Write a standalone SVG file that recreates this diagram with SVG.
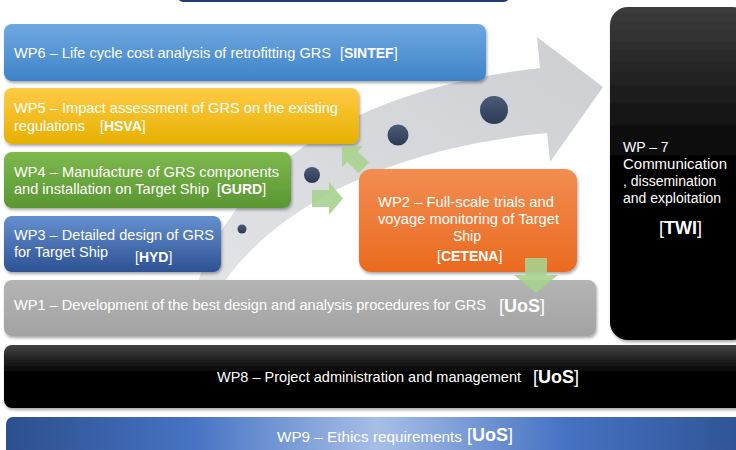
<svg xmlns="http://www.w3.org/2000/svg" width="736" height="450" viewBox="0 0 736 450">
<defs>
<linearGradient id="gBlue6" x1="0" y1="0" x2="0" y2="1"><stop offset="0" stop-color="#6ea8e0"/><stop offset="1" stop-color="#3f84c8"/></linearGradient>
<linearGradient id="gYel" x1="0" y1="0" x2="0" y2="1"><stop offset="0" stop-color="#ffcb45"/><stop offset="1" stop-color="#e6b000"/></linearGradient>
<linearGradient id="gGrn" x1="0" y1="0" x2="0" y2="1"><stop offset="0" stop-color="#7db94c"/><stop offset="1" stop-color="#5a9632"/></linearGradient>
<linearGradient id="gBlue3" x1="0" y1="0" x2="0" y2="1"><stop offset="0" stop-color="#6690d0"/><stop offset="1" stop-color="#2d5294"/></linearGradient>
<linearGradient id="gOr" x1="0" y1="0" x2="0" y2="1"><stop offset="0" stop-color="#f28d52"/><stop offset="1" stop-color="#ea6a1f"/></linearGradient>
<linearGradient id="gGray" x1="0" y1="0" x2="0" y2="1"><stop offset="0" stop-color="#b4b4b4"/><stop offset="1" stop-color="#a3a3a3"/></linearGradient>
<linearGradient id="gBlk7" x1="0" y1="0" x2="0" y2="1"><stop offset="0" stop-color="#3c3c3c"/><stop offset="0.5" stop-color="#000"/><stop offset="1" stop-color="#000"/></linearGradient>
<linearGradient id="gBlk8" x1="0" y1="0" x2="0" y2="1"><stop offset="0" stop-color="#444"/><stop offset="0.45" stop-color="#000"/><stop offset="1" stop-color="#000"/></linearGradient>
<linearGradient id="gWP9" x1="0" y1="0" x2="1" y2="0"><stop offset="0" stop-color="#2d4f8c"/><stop offset="0.25" stop-color="#4673c4"/><stop offset="0.5" stop-color="#a7bfe7"/><stop offset="0.75" stop-color="#4673c4"/><stop offset="1" stop-color="#2e5293"/></linearGradient>
<linearGradient id="gBand" x1="0" y1="1" x2="1" y2="0"><stop offset="0" stop-color="#e2e3e6"/><stop offset="1" stop-color="#cdced2"/></linearGradient>
<linearGradient id="gDot" x1="0" y1="0" x2="0" y2="1"><stop offset="0" stop-color="#4b5b78"/><stop offset="1" stop-color="#2c3a55"/></linearGradient>
<filter id="sh" x="-5%" y="-10%" width="110%" height="130%"><feDropShadow dx="1" dy="2" stdDeviation="1.5" flood-color="#000" flood-opacity="0.35"/></filter>
</defs>
<style>
.t{font-family:"Liberation Sans",Arial,sans-serif;font-size:15px;fill:#fff}
.s{font-size:14px}
.b{font-size:14px}
.big{font-size:18px}
.bb{font-weight:bold}
.ga{fill:#a9d18e;opacity:0.9}
</style>
<rect width="736" height="450" fill="#fff"/>

<g id="top-bar"><rect x="178" y="-12" width="331" height="14" rx="5" fill="#1f3d73"/></g>

<g id="flow-arrow">
<path d="M198,282 C230,180 340,90 540,68 L537,37 L603,87 L550,162 L547,133 C420,145 290,190 224,282 Z" fill="url(#gBand)"/>
<circle cx="242" cy="229" r="4.5" fill="url(#gDot)"/>
<circle cx="312" cy="175" r="8" fill="url(#gDot)"/>
<circle cx="398" cy="135" r="10.5" fill="url(#gDot)"/>
<circle cx="494" cy="110" r="14" fill="url(#gDot)"/>
</g>

<g id="wp6"><rect x="4" y="24" width="482" height="57" rx="8" fill="url(#gBlue6)" filter="url(#sh)"/>
<text class="t"><tspan x="14" y="58" textLength="317" lengthAdjust="spacingAndGlyphs">WP6 – Life cycle cost analysis of retrofitting GRS</tspan><tspan class="b" x="340" y="58">[<tspan class="bb">SINTEF</tspan>]</tspan></text></g>

<g id="wp5"><rect x="4" y="88" width="355" height="56" rx="8" fill="url(#gYel)" filter="url(#sh)"/>
<text class="t"><tspan x="14" y="113" textLength="324" lengthAdjust="spacingAndGlyphs">WP5 – Impact assessment of GRS on the existing</tspan><tspan x="14" y="131" textLength="71" lengthAdjust="spacingAndGlyphs">regulations</tspan><tspan class="b" x="100" y="131">[<tspan class="bb">HSVA</tspan>]</tspan></text></g>

<g id="wp4"><rect x="4" y="152" width="287" height="56" rx="8" fill="url(#gGrn)" filter="url(#sh)"/>
<text class="t"><tspan x="14" y="177" textLength="265" lengthAdjust="spacingAndGlyphs">WP4 – Manufacture of GRS components</tspan><tspan x="14" y="194" textLength="195" lengthAdjust="spacingAndGlyphs">and installation on Target Ship</tspan><tspan class="b" x="217" y="194">[<tspan class="bb">GURD</tspan>]</tspan></text></g>

<g id="wp3"><rect x="4" y="216" width="217" height="56" rx="8" fill="url(#gBlue3)" filter="url(#sh)"/>
<text class="t"><tspan x="14" y="240" textLength="200" lengthAdjust="spacingAndGlyphs">WP3 – Detailed design of GRS</tspan><tspan x="14" y="257" textLength="94" lengthAdjust="spacingAndGlyphs">for Target Ship</tspan><tspan class="b" x="135" y="262">[<tspan class="bb">HYD</tspan>]</tspan></text></g>

<g id="wp2"><rect x="359" y="169" width="218" height="103" rx="12" fill="url(#gOr)" filter="url(#sh)"/>
<text class="t s"><tspan x="378" y="207" textLength="176" lengthAdjust="spacingAndGlyphs">WP2 – Full-scale trials and</tspan><tspan x="378" y="224" textLength="181" lengthAdjust="spacingAndGlyphs">voyage monitoring of Target</tspan><tspan x="453" y="241">Ship</tspan><tspan class="b" x="437" y="261">[<tspan class="bb">CETENA</tspan>]</tspan></text></g>

<g id="wp1"><rect x="4" y="280" width="592" height="56" rx="8" fill="url(#gGray)" filter="url(#sh)"/>
<text class="t"><tspan x="14" y="310" textLength="472" lengthAdjust="spacingAndGlyphs">WP1 – Development of the best design and analysis procedures for GRS</tspan><tspan class="b big" x="499" y="312">[<tspan class="bb">UoS</tspan>]</tspan></text></g>

<g id="wp7"><rect x="610" y="7" width="140" height="333" rx="18" fill="url(#gBlk7)" filter="url(#sh)"/>
<text class="t s"><tspan x="623" y="152">WP – 7</tspan><tspan x="623" y="169" textLength="104" lengthAdjust="spacingAndGlyphs">Communication</tspan><tspan x="623" y="186">, dissemination</tspan><tspan x="623" y="203">and exploitation</tspan><tspan class="big" x="659" y="234">[<tspan class="bb">TWI</tspan>]</tspan></text></g>

<g id="wp8"><rect x="4" y="345" width="746" height="63" rx="8" fill="url(#gBlk8)" filter="url(#sh)"/>
<text class="t"><tspan x="217" y="382" textLength="304" lengthAdjust="spacingAndGlyphs">WP8 – Project administration and management</tspan><tspan class="b big" x="533" y="383">[<tspan class="bb">UoS</tspan>]</tspan></text></g>

<g id="wp9"><rect x="6" y="417" width="744" height="45" rx="7" fill="url(#gWP9)"/>
<text class="t"><tspan x="277" y="442" textLength="185" lengthAdjust="spacingAndGlyphs">WP9 – Ethics requirements</tspan><tspan class="b big" x="467" y="441">[<tspan class="bb">UoS</tspan>]</tspan></text></g>

<g id="connectors">
<polygon class="ga" points="312,190 329,190 329,182 343,198.5 329,215 329,207 312,207"/>
<polygon class="ga" transform="translate(342,146) rotate(225)" points="-31,-7.5 -15,-7.5 -15,-15 0,0 -15,15 -15,7.5 -31,7.5"/>
<polygon class="ga" points="525,258 547,258 547,275 558,275 536,293 514,275 525,275"/>
</g>
</svg>
